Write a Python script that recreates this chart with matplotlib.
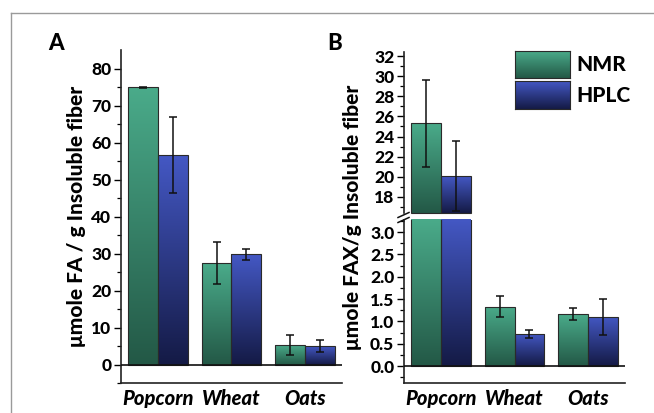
import numpy as np
import matplotlib
matplotlib.use("Agg")
import matplotlib.pyplot as plt
from matplotlib.colors import LinearSegmentedColormap
from matplotlib.lines import Line2D

plt.rcParams['font.family'] = ['Lato', 'DejaVu Sans']
plt.rcParams['font.weight'] = 'black'
WT = 'black'

categories = ["Popcorn", "Wheat", "Oats"]
series = ["NMR", "HPLC"]

fa_nmr = [75.0, 27.4, 5.4]
fa_nmr_err = [0.15, 5.7, 2.7]
fa_hplc = [56.8, 29.8, 5.0]
fa_hplc_err = [10.3, 1.4, 1.7]

fax_nmr = [25.3, 1.33, 1.16]
fax_nmr_err = [4.35, 0.23, 0.14]
fax_hplc = [20.05, 0.72, 1.10]
fax_hplc_err = [3.5, 0.09, 0.41]

W, H = 654, 413
fig = plt.figure(figsize=(W / 100, H / 100), dpi=100)

def fx(px):
    return px / W

def fy(py):
    return 1 - py / H

grad_colors = {
    "NMR": ("#4aab8a", "#235846"),
    "HPLC": ("#4458c4", "#141a45"),
}
cmaps = {k: LinearSegmentedColormap.from_list(k, [v[1], v[0]]) for k, v in grad_colors.items()}
grad = np.linspace(0, 1, 256).reshape(-1, 1)

BAR_W = 0.405


def grad_bars(ax, xs, vals, errs, name, lo, hi):
    base = lo if lo > 0 else 0
    keep = [i for i, v in enumerate(vals) if v > base]
    xs = [xs[i] for i in keep]
    vals = [vals[i] for i in keep]
    errs = [errs[i] for i in keep]
    heights = [v - base for v in vals]
    bars = ax.bar(xs, heights, BAR_W, bottom=base, facecolor='none',
                  edgecolor='#2a2a2a', linewidth=0.8, zorder=3)
    for b, v in zip(bars, vals):
        if base > 0:
            b.set_clip_on(False)
        x0 = b.get_x()
        top = min(v, hi)
        im = ax.imshow(grad, cmap=cmaps[name], origin='lower', aspect='auto',
                       extent=[x0, x0 + BAR_W, base, top], zorder=2,
                       interpolation='bilinear')
        im.set_clip_path(b)
    ax.errorbar(xs, vals, yerr=errs, fmt='none', ecolor='#111111',
                elinewidth=1.1, capsize=3, capthick=1.1, zorder=4)


def style_axis(ax):
    ax.spines['top'].set_visible(False)
    ax.spines['right'].set_visible(False)
    for s in ('left', 'bottom'):
        ax.spines[s].set_linewidth(1.2)
        ax.spines[s].set_color('#222222')
    ax.tick_params(axis='y', which='major', direction='out', length=5, width=1,
                   labelsize=12.5, pad=2, colors='#000000')
    ax.tick_params(axis='y', which='minor', direction='out', length=3, width=0.9)
    ax.tick_params(axis='x', length=0)
    for t in ax.get_yticklabels():
        t.set_fontweight(WT)


x = np.arange(len(categories))
xn = x - BAR_W / 2
xh = x + BAR_W / 2

# ---------------- Panel A ----------------
axA = fig.add_axes([fx(121), fy(383), fx(342 - 121), (383 - 50) / H])
A_lo, A_hi = -5.0, 85.1
grad_bars(axA, xn, fa_nmr, fa_nmr_err, "NMR", A_lo, A_hi)
grad_bars(axA, xh, fa_hplc, fa_hplc_err, "HPLC", A_lo, A_hi)
axA.axhline(0, color='#111111', lw=1.2, zorder=5)
axA.set_xlim(-0.5, 2.5)
axA.set_ylim(A_lo, A_hi)
axA.set_yticks(np.arange(0, 81, 10))
axA.set_yticks(np.arange(-5, 85, 5), minor=True)
axA.set_xticks(x)
axA.set_xticklabels(categories, fontsize=14.5, fontweight=WT, style='italic')
axA.tick_params(axis='x', pad=4)
style_axis(axA)
axA.set_ylabel("μmole FA / g Insoluble fiber", fontsize=15, fontweight=WT, labelpad=4)

# ---------------- Panel B (broken axis) ----------------
axBu = fig.add_axes([fx(404), fy(213), fx(625 - 404), (213 - 52) / H])
axBl = fig.add_axes([fx(404), fy(383), fx(625 - 404), (383 - 220) / H])
Bu_lo, Bu_hi = 16.4, 32.4
Bl_lo, Bl_hi = -0.38, 3.27

grad_bars(axBu, xn, fax_nmr, fax_nmr_err, "NMR", Bu_lo, Bu_hi)
grad_bars(axBu, xh, fax_hplc, fax_hplc_err, "HPLC", Bu_lo, Bu_hi)
axBu.set_xlim(-0.5, 2.5)
axBu.set_ylim(Bu_lo, Bu_hi)
axBu.set_yticks(np.arange(18, 33, 2))
axBu.set_yticks(np.arange(17, 33, 1), minor=True)
axBu.set_xticks([])
style_axis(axBu)
axBu.spines['bottom'].set_visible(False)

grad_bars(axBl, xn, fax_nmr, fax_nmr_err, "NMR", Bl_lo, Bl_hi)
grad_bars(axBl, xh, fax_hplc, fax_hplc_err, "HPLC", Bl_lo, Bl_hi)
axBl.axhline(0, color='#111111', lw=1.2, zorder=5)
axBl.set_xlim(-0.5, 2.5)
axBl.set_ylim(Bl_lo, Bl_hi)
axBl.set_yticks(np.arange(0, 3.01, 0.5))
axBl.set_yticks(np.arange(-0.25, 3.26, 0.25), minor=True)
axBl.set_yticklabels([f"{v:.1f}" for v in np.arange(0, 3.01, 0.5)])
axBl.set_xticks(x)
axBl.set_xticklabels(categories, fontsize=14.5, fontweight=WT, style='italic')
axBl.tick_params(axis='x', pad=4)
style_axis(axBl)

# break marks
for yb in (215, 220):
    fig.add_artist(Line2D([fx(398), fx(409)], [fy(yb + 2.5), fy(yb - 2.5)],
                          color='#111111', lw=1.1))

fig.text(fx(353), fy(217), "μmole FAX/g Insoluble fiber", rotation=90,
         fontsize=15, fontweight=WT, ha='center', va='center')

# legend
for name, (y0, y1) in zip(series, [(51, 78), (81, 109)]):
    lax = fig.add_axes([fx(515), fy(y1), fx(570 - 515), (y1 - y0) / H])
    lax.imshow(grad, cmap=cmaps[name], origin='lower', aspect='auto',
               extent=[0, 1, 0, 1], interpolation='bilinear')
    lax.set_xticks([])
    lax.set_yticks([])
    for s in lax.spines.values():
        s.set_color('#2a2a2a')
        s.set_linewidth(0.8)
    fig.text(fx(576), fy((y0 + y1) / 2), name, fontsize=15, fontweight=WT,
             ha='left', va='center')

# panel letters
fig.text(fx(48), fy(43), "A", fontsize=16, fontweight=WT, ha='left', va='center')
fig.text(fx(327), fy(43), "B", fontsize=16, fontweight=WT, ha='left', va='center')

# outer frame lines (top and left)
fig.add_artist(Line2D([fx(11), 1], [fy(13), fy(13)], color='#9a9a9a', lw=1))
fig.add_artist(Line2D([fx(11), fx(11)], [fy(13), 0], color='#9a9a9a', lw=1))

fig.savefig("out.png", dpi=100)
